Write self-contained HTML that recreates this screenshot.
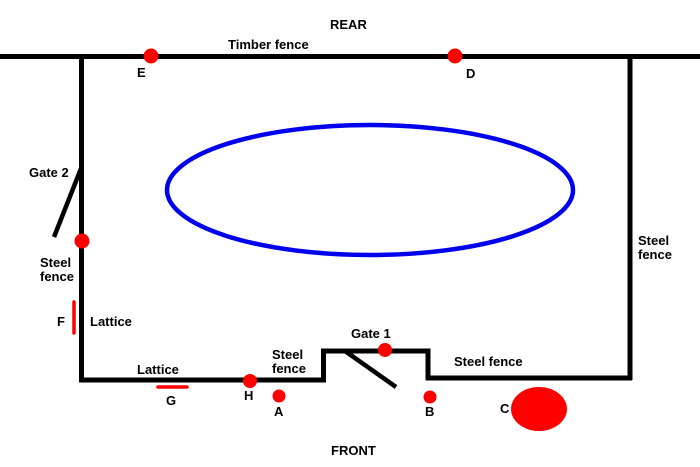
<!DOCTYPE html>
<html><head><meta charset="utf-8"><style>
html,body{margin:0;padding:0;background:#fff;}
svg{display:block;}
text{font-family:"Liberation Sans",Arial,sans-serif;font-weight:bold;font-size:13px;fill:#000;}
</style></head><body>
<svg width="700" height="467" viewBox="0 0 700 467" xmlns="http://www.w3.org/2000/svg">
<g stroke="#000" stroke-width="5" fill="none" stroke-linecap="butt">
<line x1="0" y1="56.5" x2="700" y2="56.5"/>
<line x1="81.5" y1="56" x2="81.5" y2="382"/>
<line x1="630" y1="56" x2="630" y2="380"/>
<polyline points="79,380 323.5,380 323.5,351 428,351 428,378 632,378"/>
<line x1="82" y1="166" x2="54" y2="237" stroke-width="4.5"/>
<line x1="345" y1="351" x2="396" y2="387" stroke-width="4.5"/>
</g>
<ellipse cx="370" cy="190" rx="203" ry="65" fill="none" stroke="#0000ee" stroke-width="4.5"/>
<g fill="#f00">
<circle cx="151" cy="56" r="7.5"/>
<circle cx="455" cy="56" r="7.5"/>
<circle cx="82" cy="241" r="7.5"/>
<circle cx="385" cy="350" r="7"/>
<circle cx="250" cy="381" r="7"/>
<circle cx="279" cy="396" r="6.5"/>
<circle cx="430" cy="397" r="6.5"/>
<ellipse cx="539" cy="409" rx="28" ry="22"/>
</g>
<g stroke="#f00" stroke-width="3.5" stroke-linecap="round">
<line x1="74" y1="302" x2="74" y2="333"/>
<line x1="158" y1="387" x2="187" y2="387"/>
</g>
<text x="330" y="29">REAR</text>
<text x="228" y="49">Timber fence</text>
<text x="137" y="77">E</text>
<text x="466" y="78">D</text>
<text x="29" y="177">Gate 2</text>
<text x="40" y="267">Steel</text>
<text x="40" y="281">fence</text>
<text x="57" y="326">F</text>
<text x="90" y="326">Lattice</text>
<text x="137" y="374">Lattice</text>
<text x="166" y="405">G</text>
<text x="244" y="400">H</text>
<text x="274" y="416">A</text>
<text x="272" y="359">Steel</text>
<text x="272" y="373">fence</text>
<text x="351" y="338">Gate 1</text>
<text x="454" y="366">Steel fence</text>
<text x="425" y="416">B</text>
<text x="500" y="413">C</text>
<text x="331" y="455">FRONT</text>
<text x="638" y="245">Steel</text>
<text x="638" y="259">fence</text>
</svg>
</body></html>
